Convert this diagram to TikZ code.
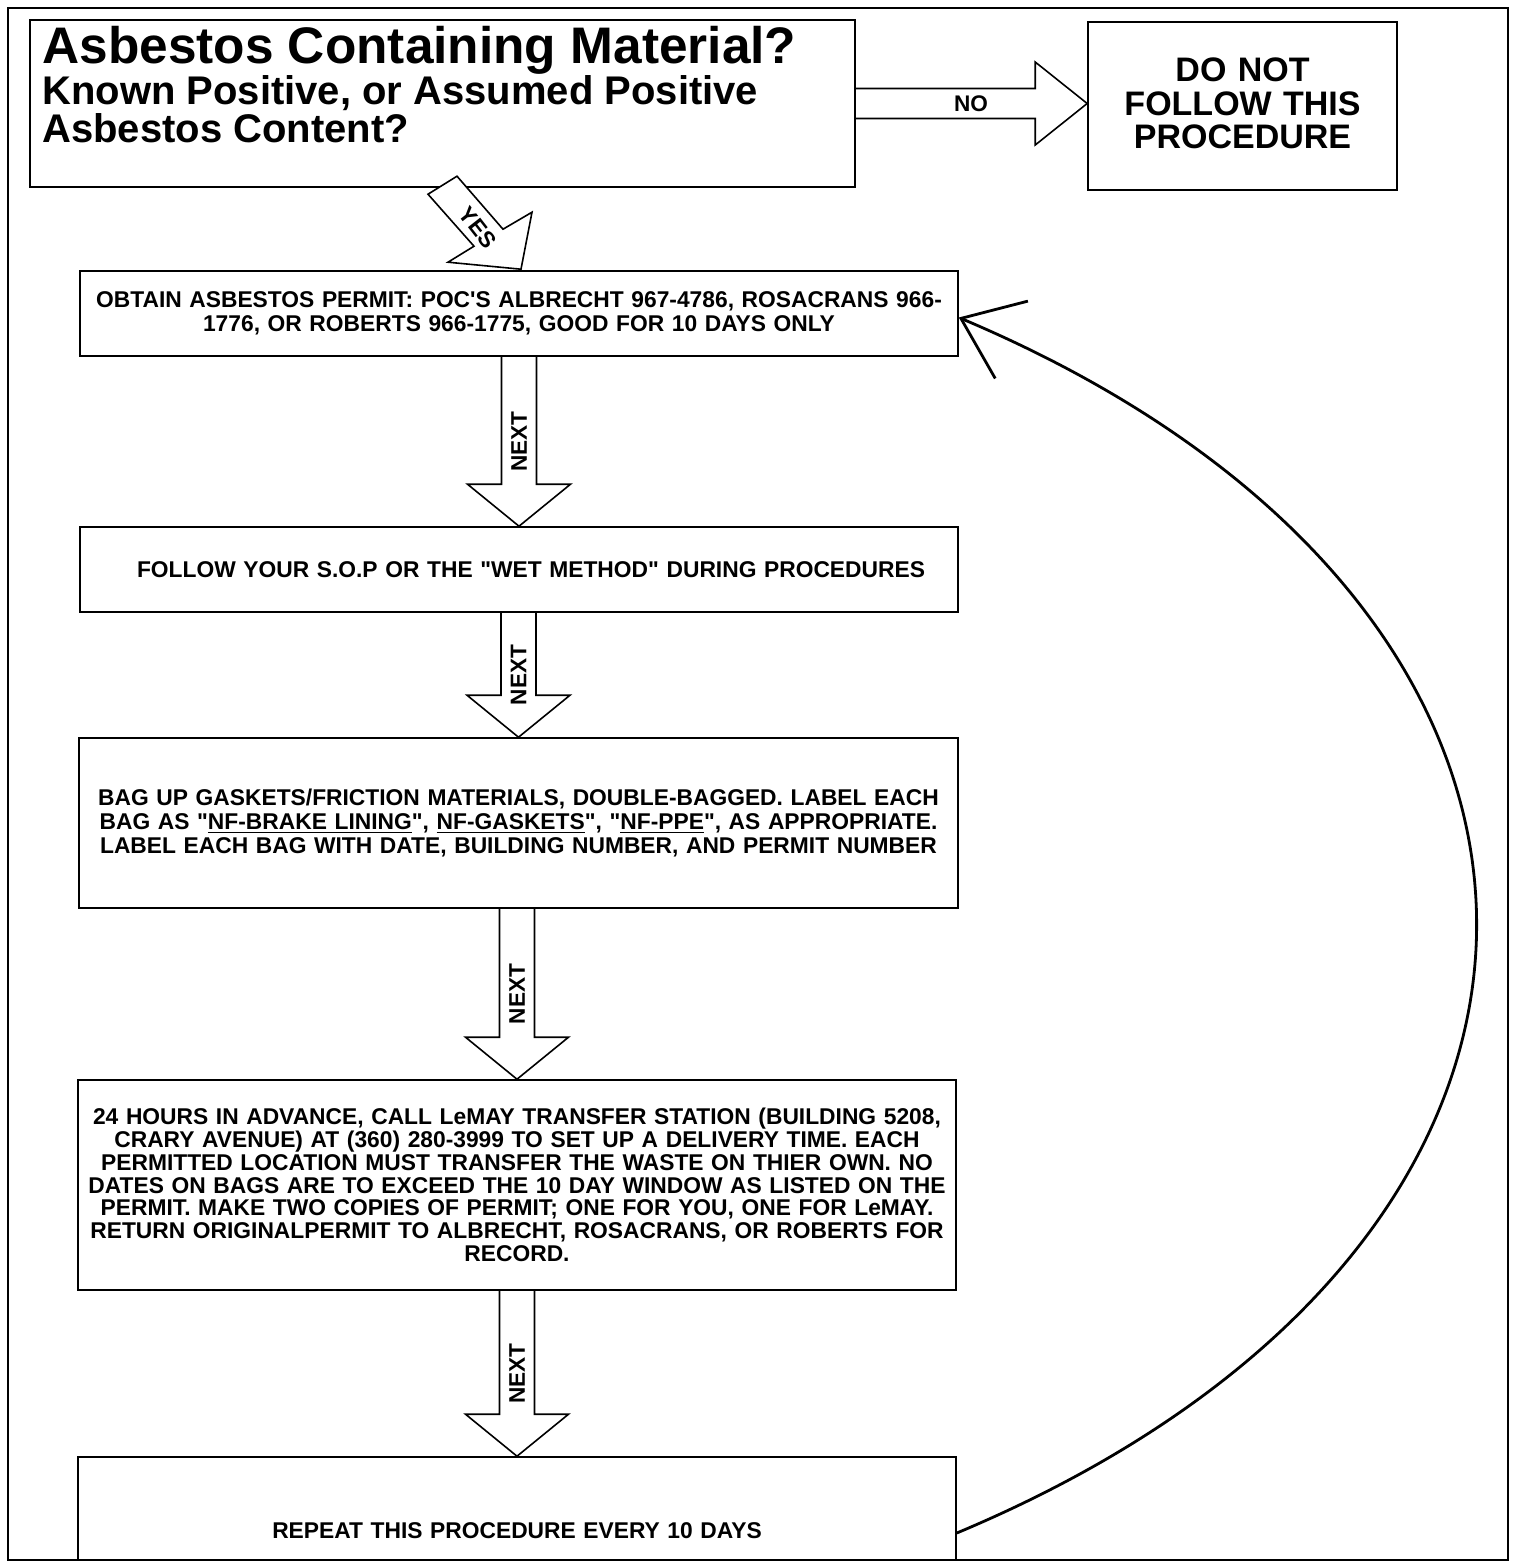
\documentclass[tikz,border=0pt]{standalone}
\usepackage{fontspec}
\newfontfamily\af{Liberation Sans}
\usetikzlibrary{calc,arrows.meta}
\begin{document}
\begin{tikzpicture}[x=0.5pt,y=-0.5pt]
\tikzset{
 box/.style={draw, line width=0.8pt, inner sep=0pt, fill=white},
 proc/.style={box, minimum width=439pt, text width=436pt, align=center,
   font=\af\bfseries\fontsize{11.4}{11.8}\selectfont},
 blk/.style={draw, line width=0.8pt, line join=miter},
 lbl/.style={font=\af\bfseries\fontsize{11.3}{12}\selectfont, inner sep=0pt},
 loopline/.style={line width=1.4pt, -{Straight Barb[length=27.5pt,width=42pt,line width=1.4pt]}},
}
\useasboundingbox (0,0) rectangle (1514,1564);
% page frame
\draw[line width=0.8pt] (8,8) rectangle (1508,1560);

% title box
\node[box, minimum width=412.5pt, minimum height=83.5pt] (b1) at (442.5,103.5) {};
\node[anchor=base west, inner sep=0pt, font=\af\bfseries\fontsize{25.7}{28}\selectfont] (t1) at (42,63) {Asbestos Containing Material?};
\node[anchor=base west, inner sep=0pt, font=\af\bfseries\fontsize{20}{22}\selectfont] (t2) at (42,104) {Known Positive, or Assumed Positive};
\node[anchor=base west, inner sep=0pt, font=\af\bfseries\fontsize{20}{22}\selectfont] (t3) at (42,142) {Asbestos Content?};

% do not box
\node[box, minimum width=154.5pt, minimum height=84pt, text width=150pt, align=center,
  font=\af\bfseries\fontsize{17}{16.75}\selectfont] (bdo) at (1242.5,106) {DO NOT\\FOLLOW THIS\\PROCEDURE\rule[-2.5pt]{0pt}{2.5pt}};

% procedure boxes
\node[proc, minimum height=42.5pt] (b2) at (519,313.5) {OBTAIN ASBESTOS PERMIT: POC'S ALBRECHT 967-4786, ROSACRANS 966-\\1776, OR ROBERTS 966-1775, GOOD FOR 10 DAYS ONLY};
\node[proc, minimum height=42.5pt] (b3) at (519,569.5) {\hspace*{12pt}FOLLOW YOUR S.O.P OR THE "WET METHOD" DURING PROCEDURES};
\node[proc, minimum width=439.5pt, minimum height=85pt] (b4) at (518.5,823) {BAG UP GASKETS/FRICTION MATERIALS, DOUBLE-BAGGED. LABEL EACH\\BAG AS "\underline{NF-BRAKE LINING}", \underline{NF-GASKETS}", "\underline{NF-PPE}", AS APPROPRIATE.\\LABEL EACH BAG WITH DATE, BUILDING NUMBER, AND PERMIT NUMBER};
\node[proc, minimum height=105pt, font=\af\bfseries\fontsize{11.4}{11.4}\selectfont] (b5) at (517,1185) {24 HOURS IN ADVANCE, CALL LeMAY TRANSFER STATION (BUILDING 5208,\\CRARY AVENUE) AT (360) 280-3999 TO SET UP A DELIVERY TIME. EACH\\PERMITTED LOCATION MUST TRANSFER THE WASTE ON THIER OWN. NO\\DATES ON BAGS ARE TO EXCEED THE 10 DAY WINDOW AS LISTED ON THE\\PERMIT. MAKE TWO COPIES OF PERMIT; ONE FOR YOU, ONE FOR LeMAY.\\RETURN ORIGINALPERMIT TO ALBRECHT, ROSACRANS, OR ROBERTS FOR\\RECORD.};
\begin{scope}
\clip (0,0) rectangle (1514,1558);
\node[proc, minimum height=74pt] (b6) at (517,1531) {REPEAT THIS PROCEDURE EVERY 10 DAYS};
\end{scope}

% NO arrow
\coordinate (tipno) at (bdo.west |- b1.east);
\draw[blk] ($(b1.east)+(0,-15)$) -- ($(tipno)+(-52,-15)$) -- ($(tipno)+(-52,-41.5)$) -- (tipno)
  -- ($(tipno)+(-52,41.5)$) -- ($(tipno)+(-52,15)$) -- ($(b1.east)+(0,15)$);
\node[lbl] (nolbl) at (971,104) {NO};

% YES arrow
\coordinate (tipyes) at ($(b2.north)+(2,-1)$);
\draw[blk, fill=white] (tipyes) -- ($(tipyes)+(-73,-7)$) -- ($(tipyes)+(-47,-23)$) -- ($(tipyes)+(-93,-75)$)
  -- ($(tipyes)+(-64,-93)$) -- ($(tipyes)+(-18,-40)$) -- ($(tipyes)+(11,-57)$) -- cycle;
\node[lbl, rotate=-52] (yeslbl) at (478,228) {YES};

% NEXT arrows
\newcommand\blockdown[2]{%
  \draw[blk] ($(#1.south -| #2.north)+(-17.5,0)$) -- ($(#2.north)+(-17.5,-42)$) -- ($(#2.north)+(-51.5,-42)$)
    -- (#2.north) -- ($(#2.north)+(51.5,-42)$) -- ($(#2.north)+(17.5,-42)$) -- ($(#1.south -| #2.north)+(17.5,0)$);
  \node[lbl, rotate=90] at ($(#1.south -| #2.north)!0.5!(#2.north)$) {NEXT};
}
\blockdown{b2}{b3}
\blockdown{b3}{b4}
\blockdown{b4}{b5}
\blockdown{b5}{b6}

% loop back arrow
\coordinate (loopstart) at ($(b6.east)+(0,2)$);
\coordinate (loopend) at ($(b2.east)+(0,4)$);
\draw[loopline] (loopstart) .. controls (1649,1243) and (1649,609) .. (loopend);
\end{tikzpicture}
\end{document}
